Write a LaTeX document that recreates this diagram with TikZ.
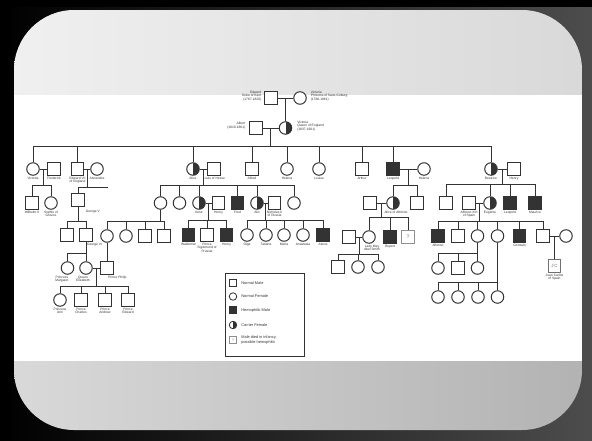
\documentclass[tikz,border=0pt]{standalone}
\usepackage{fontspec}
\setmainfont{Liberation Sans}
\usetikzlibrary{calc}
\definecolor{ink}{HTML}{333333}

\begin{document}
\begin{tikzpicture}[x=1pt,y=-1pt,
  sym/.style={draw=ink,line width=1pt,fill=white,inner sep=0pt,minimum size=12.5pt},
  male/.style={sym,rectangle},
  fem/.style={sym,circle},
  hemo/.style={male,fill=ink},
  carr/.style={fem,path picture={\fill[ink] (path picture bounding box.north) rectangle (path picture bounding box.south east);}},
  unk/.style={male,draw=ink!55,text=ink!70,font=\fontsize{5}{5}\selectfont},
  lbl/.style={font=\fontsize{3.3}{3.8}\selectfont,align=center,inner sep=0.8pt,text=ink},
  ln/.style={draw=ink,line width=0.9pt},
  keysym/.style={minimum size=7.5pt,line width=0.8pt},
  keytxt/.style={font=\fontsize{3.9}{4.5}\selectfont,align=left,anchor=west,inner sep=0pt,text=ink}]
  \useasboundingbox (0,0) rectangle (592,440);
  % slide frame
  \shade[left color=black,right color=black!70] (0,0) rectangle (592,440);
  \fill[black] (0,0) rectangle (592,7);
  \fill[black] (0,0) rectangle (12,440);
  \begin{scope}
    \clip[rounded corners=60pt] (14,10) rectangle (582,430);
    \shade[left color=gray!12,right color=gray!30] (14,10) rectangle (582,95);
    \fill[white] (14,95) rectangle (582,361);
    \shade[left color=gray!30,right color=gray!60] (14,361) rectangle (582,430);
  \end{scope}
  % generations I and II
  \node[male] (edward) at (271,98) {};
  \node[fem] (vsc) at (300,98) {};
  \node[male] (albert) at (256,128) {};
  \node[carr] (qv) at (285.5,128) {};
  \node[lbl,anchor=east,align=right] (edward-l) at ([xshift=-2pt,yshift=2pt]edward.west) {Edward\\Duke of Kent\\(1767-1820)};
  \node[lbl,anchor=west,align=left] (vsc-l) at ([xshift=3pt,yshift=2pt]vsc.east) {Victoria\\Princess of Saxe-Coburg\\(1786-1861)};
  \node[lbl,anchor=east,align=right] (albert-l) at ([xshift=-3pt,yshift=2pt]albert.west) {Albert\\(1819-1861)};
  \node[lbl,anchor=west,align=left] (qv-l) at ([xshift=4pt,yshift=2pt]qv.east) {Victoria\\Queen of England\\(1837-1901)};
  \node[fem] (vicky) at (33,169) {};
  \node[male] (fred) at (54,169) {};
  \node[male] (ed7) at (77.5,169) {};
  \node[fem] (alex) at (97,169) {};
  \node[carr] (alice) at (193,169) {};
  \node[male] (louis) at (214,169) {};
  \node[male] (alfred) at (252,169) {};
  \node[fem] (helena) at (287,169) {};
  \node[fem] (louise) at (319,169) {};
  \node[male] (arthur) at (362,169) {};
  \node[hemo] (leopold) at (393,169) {};
  \node[fem] (helwal) at (424,169) {};
  \node[carr] (beatrice) at (491,169) {};
  \node[male] (henryb) at (514,169) {};
  % generation III
  \node[male] (wil2) at (32,203) {};
  \node[fem] (sophie) at (51,203) {};
  \node[male] (geo5) at (78,200) {};
  \node[fem] (vichesse) at (160.5,203) {};
  \node[fem] (ella) at (179.5,203) {};
  \node[carr] (irene) at (199,203) {};
  \node[male] (henryp) at (218.5,203) {};
  \node[hemo] (fritz) at (237.5,203) {};
  \node[carr] (alix) at (257,203) {};
  \node[male] (nicholas) at (274.5,203) {};
  \node[fem] (marie) at (294,203) {};
  \node[male] (alexteck) at (370,203) {};
  \node[carr] (aliceath) at (393,203) {};
  \node[male] (charlesed) at (417,203) {};
  \node[male] (alexcar) at (446,203) {};
  \node[male] (alfonso13) at (469,203) {};
  \node[carr] (ena) at (490,203) {};
  \node[hemo] (leopoldb) at (510,203) {};
  \node[hemo] (mauriceb) at (535,203) {};
  % generation IV
  \node[male] (ed8) at (67,235) {};
  \node[male] (geo6) at (86,235) {};
  \node[fem] (alicebat) at (107,236) {};
  \node[fem] (louiseb) at (126,236) {};
  \node[male] (georgeb) at (145,236) {};
  \node[male] (louisb) at (164,236) {};
  \node[hemo] (waldemar) at (188.5,235) {};
  \node[male] (sigismund) at (207,235) {};
  \node[hemo] (henryj) at (226.5,235) {};
  \node[fem] (olga) at (247,235) {};
  \node[fem] (tatiana) at (266,235) {};
  \node[fem] (maria) at (284,235) {};
  \node[fem] (anastasia) at (303,235) {};
  \node[hemo] (alexis) at (323,235) {};
  \node[male] (henryab) at (349,237) {};
  \node[fem] (maysmith) at (369,237) {};
  \node[hemo] (rupert) at (390,237) {};
  \node[unk] (maurq) at (408,237) {?};
  \node[hemo] (alfonsoj) at (438,236) {};
  \node[male] (jaime) at (458,236) {};
  \node[fem] (beatrizs) at (477.5,236) {};
  \node[fem] (cristina) at (497.5,236) {};
  \node[hemo] (gonzalo) at (519.5,236) {};
  \node[male] (juan) at (543,236) {};
  \node[fem] (mercedes) at (566,236) {};
  % generations V and VI
  \node[fem] (margaret) at (67.5,268) {};
  \node[fem] (eliz) at (86,268) {};
  \node[male] (philip) at (107,268) {};
  \node[fem] (anne) at (60,300) {};
  \node[male] (charles) at (81,300) {};
  \node[male] (andrew) at (105,300) {};
  \node[male] (edwardp) at (128,300) {};
  \node[male] (may1) at (338,267) {};
  \node[fem] (may2) at (358,267) {};
  \node[fem] (may3) at (378,267) {};
  \node[sym,rectangle,draw=ink!70,text=ink!70,font=\fontsize{4.5}{5}\selectfont] (jc) at (554.5,266) {J\,C};
  \node[fem] (bz1) at (438,268) {};
  \node[male] (bz2) at (458,268) {};
  \node[fem] (bz3) at (477.5,268) {};
  \foreach \i/\x in {1/438,2/458,3/478,4/497.5}
    \node[fem] (cr\i) at (\x,297) {};
  % labels
  \foreach \n/\t in {vicky/Victoria,fred/Frederick,ed7/{Edward VII\\of England},alex/Alexandra,
      alice/Alice,louis/Louis of Hesse,alfred/Alfred,helena/Helena,louise/Louise,arthur/Arthur,
      leopold/Leopold,helwal/Helena,beatrice/Beatrice,henryb/Henry,wil2/Wilhelm II,
      sophie/{Sophie of\\Greece},irene/Irene,henryp/Henry,fritz/Fred,alix/Alix,
      nicholas/{Nicholas II\\of Russia},alfonso13/{Alfonso XIII\\of Spain},ena/Eugenie,
      leopoldb/Leopold,mauriceb/Maurice,waldemar/Waldemar,sigismund/{Prince\\Sigismund of\\Prussia},
      henryj/Henry,olga/Olga,tatiana/Tatiana,maria/Maria,anastasia/Anastasia,alexis/Alexis,
      rupert/Rupert,alfonsoj/Alfonso,gonzalo/Gonzalo,anne/{Princess\\Ann},charles/{Prince\\Charles},
      andrew/{Prince\\Andrew},edwardp/{Prince\\Edward},jc/{Juan Carlos\\of Spain}}
    \node[lbl,anchor=north] (\n-l) at (\n.south) {\t};
  \node[lbl,anchor=north] (aliceath-l) at ([xshift=3pt]aliceath.south) {Alice of Athlone};
  \node[lbl,anchor=north] (maysmith-l) at ([xshift=3pt]maysmith.south) {Lady May\\Abel Smith};
  \node[lbl,anchor=north west] (geo5-l) at ([yshift=-2pt]geo5.south east) {George V};
  \node[lbl,anchor=north west] (geo6-l) at (geo6.south) {George VI};
  \node[lbl,anchor=north east] (margaret-l) at ([xshift=2pt]margaret.south) {Princess\\Margaret};
  \node[lbl,anchor=north] (eliz-l) at ([xshift=-3pt]eliz.south) {Queen\\Elizabeth};
  \node[lbl,anchor=north west] (philip-l) at (philip.south) {Prince Philip};
  % marriages and lines of descent
  \coordinate (s1) at (0,146);  \coordinate (s2) at (0,185);  \coordinate (s3) at (108,187);
  \coordinate (s4) at (0,221);  \coordinate (s5) at (0,253);  \coordinate (s6) at (0,286);
  \coordinate (s7) at (0,185);  \coordinate (s8) at (0,221);  \coordinate (s9) at (0,220);
  \coordinate (s10) at (0,185); \coordinate (s11) at (0,217); \coordinate (s12) at (0,254);
  \coordinate (s13) at (0,184); \coordinate (s14) at (0,221); \coordinate (s15) at (0,253);
  \coordinate (s16) at (0,282);
  \coordinate (m0) at ($(edward)!.5!(vsc)$);
  \coordinate (m1) at ($(albert)!.5!(qv)$);
  \coordinate (m2) at ($(vicky)!.5!(fred)$);
  \coordinate (m3) at ($(ed7)!.5!(alex)$);
  \coordinate (m4) at ($(alice)!.5!(louis)$);
  \coordinate (m5) at ($(irene)!.5!(henryp)$);
  \coordinate (m6) at ($(alix)!.5!(nicholas)$);
  \coordinate (m7) at ($(leopold)!.5!(helwal)$);
  \coordinate (m8) at ($(alexteck)!.5!(aliceath)$);
  \coordinate (m9) at ($(henryab)!.5!(maysmith)$);
  \coordinate (m10) at ($(beatrice)!.5!(henryb)$);
  \coordinate (m11) at ($(alfonso13)!.5!(ena)$);
  \coordinate (m12) at ($(juan)!.5!(mercedes)$);
  \coordinate (m13) at ($(eliz)!.5!(philip)$);
  \foreach \a/\b in {edward/vsc,albert/qv,vicky/fred,ed7/alex,alice/louis,irene/henryp,alix/nicholas,
      leopold/helwal,alexteck/aliceath,henryab/maysmith,beatrice/henryb,alfonso13/ena,juan/mercedes,eliz/philip}
    \draw[ln] (\a) -- (\b);
  \draw[ln] (m0) -- (m0 |- qv.north);
  \draw[ln] (m12) -- (m12 |- jc.north);
  \draw[ln] (alicebat) -- (philip);
  \foreach \m/\s in {m1/s1,m2/s2,m3/s3,m4/s7,m5/s9,m6/s9,m7/s10,m8/s11,m9/s12,m10/s13,m11/s14,m13/s6}
    \draw[ln] (\m) -- (\m |- \s);
  \foreach \p/\s in {geo5/s4,geo6/s5,vichesse/s8,beatrizs/s15,cristina/s16}
    \draw[ln] (\p.south) -- (\p |- \s);
  \foreach \f/\l/\s in {vicky/beatrice/s1,wil2/sophie/s2,ed8/geo6/s4,margaret/eliz/s5,
      anne/edwardp/s6,vichesse/marie/s7,alicebat/louisb/s8,waldemar/henryj/s9,olga/alexis/s9,
      aliceath/charlesed/s10,maysmith/maurq/s11,may1/may3/s12,alexcar/mauriceb/s13,
      alfonsoj/juan/s14,bz1/bz3/s15,cr1/cr4/s16}
    \draw[ln] (\f |- \s) -- (\l |- \s);
  \draw[ln] (geo5 |- s3) -- (s3);
  \foreach \c/\s in {vicky/s1,ed7/s1,alice/s1,alfred/s1,helena/s1,louise/s1,arthur/s1,leopold/s1,beatrice/s1,
      wil2/s2,sophie/s2,geo5/s3,ed8/s4,geo6/s4,margaret/s5,eliz/s5,
      anne/s6,charles/s6,andrew/s6,edwardp/s6,
      vichesse/s7,ella/s7,irene/s7,fritz/s7,alix/s7,marie/s7,
      alicebat/s8,louiseb/s8,georgeb/s8,louisb/s8,
      waldemar/s9,sigismund/s9,henryj/s9,olga/s9,tatiana/s9,maria/s9,anastasia/s9,alexis/s9,
      aliceath/s10,charlesed/s10,maysmith/s11,rupert/s11,maurq/s11,may1/s12,may2/s12,may3/s12,
      alexcar/s13,ena/s13,leopoldb/s13,mauriceb/s13,
      alfonsoj/s14,jaime/s14,beatrizs/s14,cristina/s14,gonzalo/s14,juan/s14,
      bz1/s15,bz2/s15,bz3/s15,cr1/s16,cr2/s16,cr3/s16,cr4/s16}
    \draw[ln] (\c.north) -- (\c |- \s);
  % key
  \node[draw=ink,line width=0.9pt,fill=white,minimum width=79pt,minimum height=83pt,inner sep=0pt] (key) at (264.5,314.5) {};
  \node[male,keysym] (k1) at (233,283) {};
  \node[fem,keysym] (k2) at (233,296.5) {};
  \node[hemo,keysym] (k3) at (233,310) {};
  \node[carr,keysym] (k4) at (233,325) {};
  \node[unk,keysym,font=\fontsize{3.5}{4}\selectfont] (k5) at (233,340) {?};
  \node[keytxt] (k1-t) at ([xshift=4pt]k1.east) {Normal Male};
  \node[keytxt] (k2-t) at ([xshift=4pt]k2.east) {Normal Female};
  \node[keytxt] (k3-t) at ([xshift=4pt]k3.east) {Hemophilic Male};
  \node[keytxt] (k4-t) at ([xshift=4pt]k4.east) {Carrier Female};
  \node[keytxt] (k5-t) at ([xshift=4pt]k5.east) {Male died in infancy,\\possible hemophilic};
\end{tikzpicture}
\end{document}
